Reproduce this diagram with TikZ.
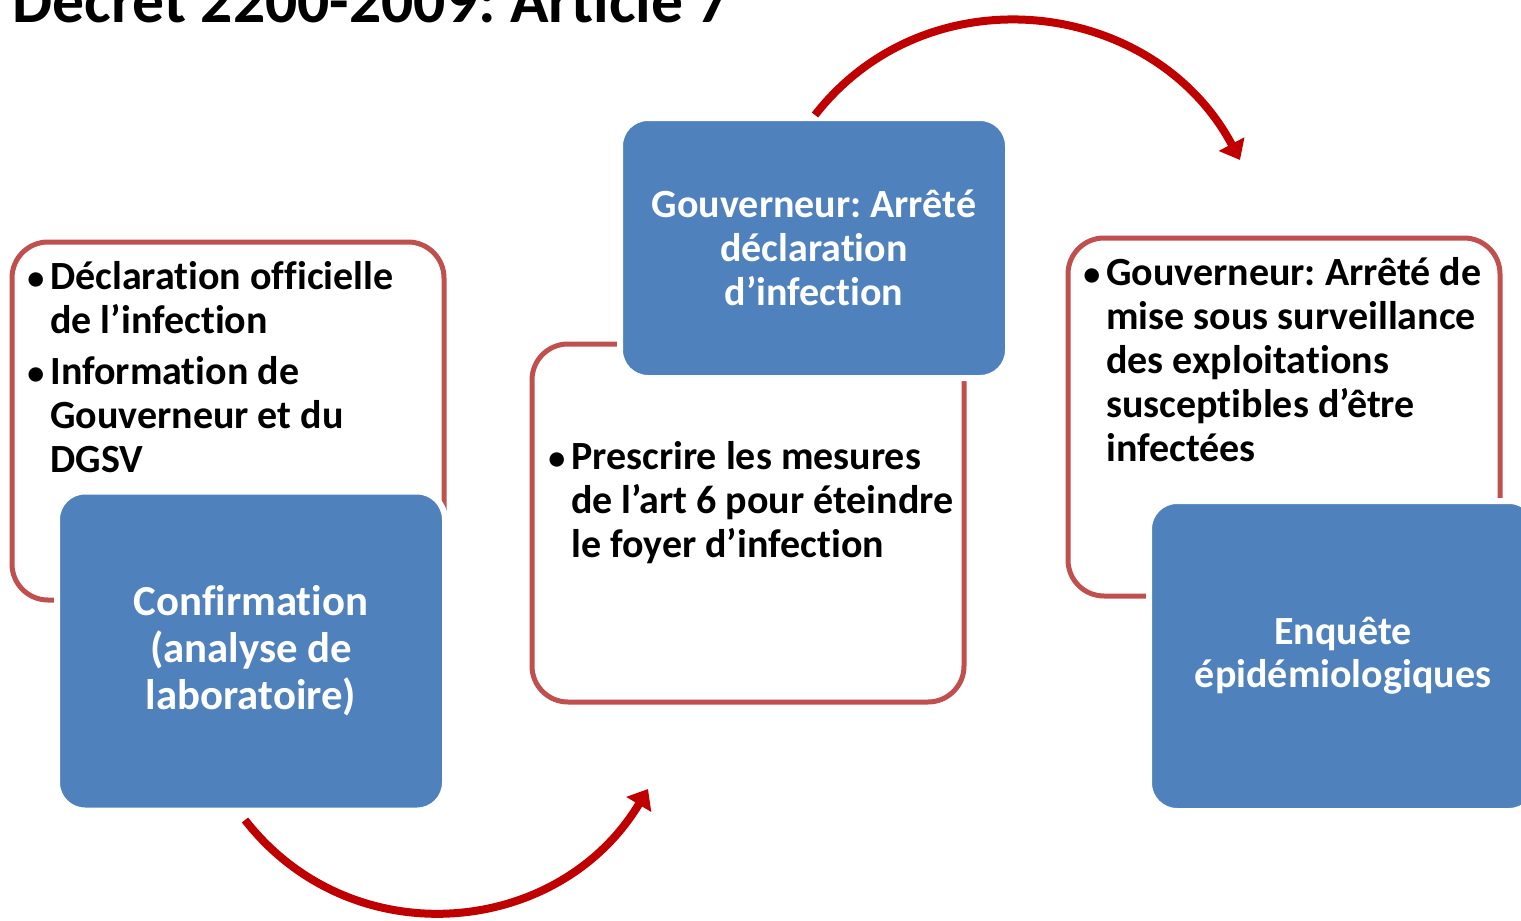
\documentclass[tikz,border=0pt]{standalone}
\usepackage{fontspec}
\setmainfont{Carlito}[Ligatures=CommonOff]
\usetikzlibrary{arrows.meta}
\definecolor{bleu}{HTML}{4F81BD}
\definecolor{cadre}{HTML}{C0504D}
\definecolor{fleche}{HTML}{C00000}
\newcommand{\puce}{{\fontsize{17}{17}\selectfont\textbullet}}
\frenchspacing
\begin{document}
\begin{tikzpicture}[x=0.5pt,y=0.5pt,
  rouge/.style={draw=cadre,line width=2.5pt,rounded corners=18pt,minimum width=216pt,minimum height=179pt},
  bloc/.style={fill=bleu,draw=white,line width=3pt,rounded corners=14pt,minimum width=194pt,text=white,align=center,font=\bfseries\fontsize{21.4}{23.5}\selectfont},
  liste/.style={anchor=base west,inner sep=0pt,font=\bfseries\fontsize{20}{22}\selectfont},
  fl/.style={fleche,line width=4pt,-{Triangle[length=9pt,width=14pt]},looseness=1.1}]
            \useasboundingbox (0,0) rectangle (1521,-921);
            \clip (0,0) rectangle (1521,-921);
            \node[anchor=base west,inner sep=0pt,font=\bfseries\fontsize{31.8}{36}\selectfont] (titre) at (12,-22) {Décret 2200-2009: Article 7};
            \node[rouge] (cadreA) at (228,-421) {};
            \node[rouge] (cadreB) at (748,-523) {};
            \node[rouge] (cadreC) at (1284,-417) {};
            \node[bloc,minimum height=159.5pt] (confirm) at (251,-651) {Confirmation\\(analyse de\\laboratoire)};
            \node[bloc,minimum height=130pt,font=\bfseries\fontsize{20}{22}\selectfont] (arrete) at (814,-248) {Gouverneur: Arrêté\\déclaration\\d’infection};
            \node[bloc,minimum height=155pt,font=\bfseries\fontsize{20}{21.5}\selectfont] (enquete) at (1343,-656) {Enquête\\épidémiologiques};
            \node[liste] (listeA) at (27,-289) {\begin{tabular}[t]{@{}l@{\hspace{3pt}}l@{}}\puce&Déclaration officielle\\&de l’infection\\[3.5pt]\puce&Information de\\&Gouverneur et du\\&DGSV\end{tabular}};
            \node[liste] (listeB) at (548,-469) {\begin{tabular}[t]{@{}l@{\hspace{3pt}}l@{}}\puce&Prescrire les mesures\\&de l’art 6 pour éteindre\\&le foyer d’infection\end{tabular}};
            \node[liste] (listeC) at (1083,-285) {\begin{tabular}[t]{@{}l@{\hspace{3pt}}l@{}}\puce&Gouverneur: Arrêté de\\&mise sous surveillance\\&des exploitations\\&susceptibles d’être\\&infectées\end{tabular}};
            \path (815,-115) coordinate (hautA) (1240,-160) coordinate (hautB);
            \draw[fl] (hautA) to[out=52,in=118] (hautB);
            \path (245,-820) coordinate (basA) (648,-789) coordinate (basB);
            \draw[fl] (basA) to[out=-52,in=-121] (basB);
\end{tikzpicture}
\end{document}
